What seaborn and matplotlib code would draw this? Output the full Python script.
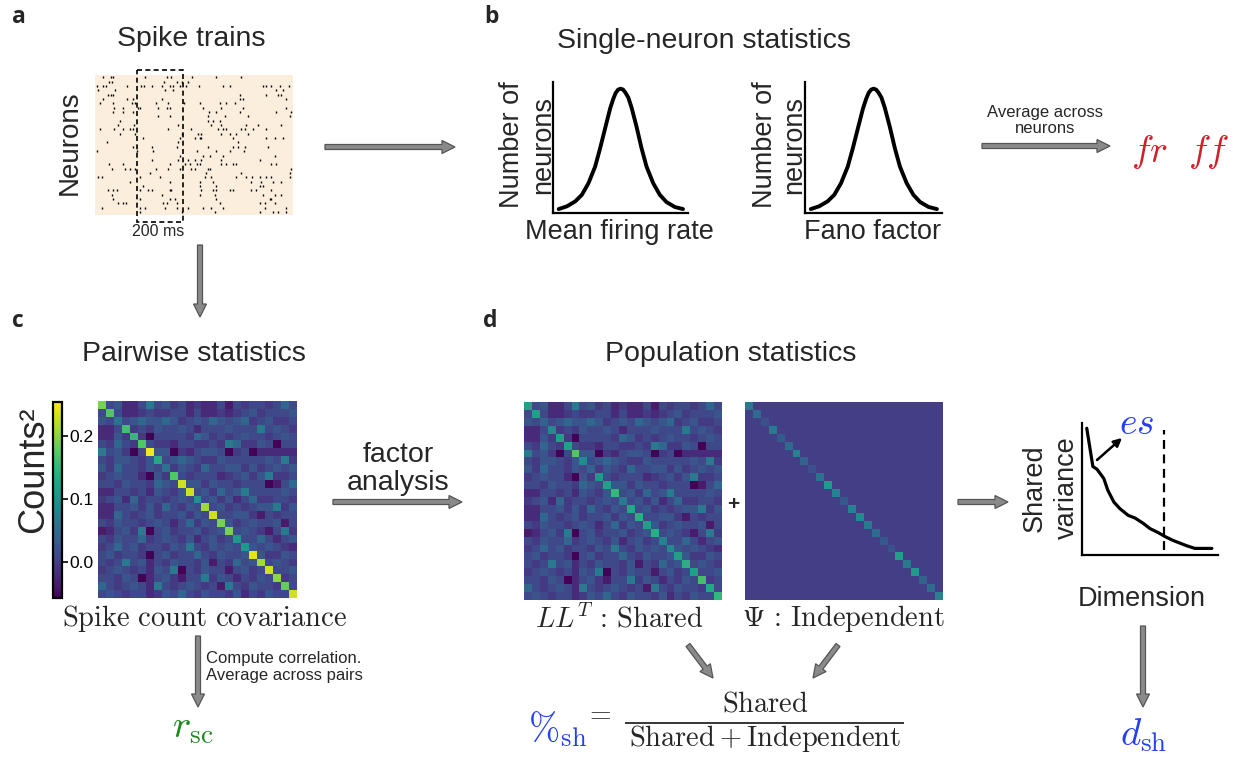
import numpy as np
import pandas as pd
import matplotlib
matplotlib.use("Agg")
import matplotlib.pyplot as plt
from matplotlib.patches import FancyArrow, Rectangle
import seaborn as sns

W, H = 1233, 761

# ---------------- data ----------------
# Spike times (ms) for each recorded neuron, top row first
SPIKE_TIMES = [
    [36, 68, 77, 217, 311, 328, 423, 525, 636],
    [62, 72, 299, 358, 376, 406],
    [7, 36, 48, 140, 198, 212, 246, 293, 325, 340, 368, 397, 452, 556, 585, 730, 744, 766, 802, 842],
    [14, 87, 303, 340, 788, 816],
    [58, 68, 79, 629, 744, 795, 809],
    [36, 137, 166, 289, 631, 643, 831],
    [22, 79, 159, 173, 267, 318, 387, 455, 542, 571, 607],
    [82, 123, 188, 195, 275, 311, 325, 470, 549, 643, 831],
    [79, 123, 166, 496, 527, 629, 788, 853],
    [275, 325, 491, 564, 665, 845],
    [108, 491, 513, 542],
    [101, 171, 361, 506, 549, 657, 708, 809],
    [22, 82, 123, 152, 163, 318, 419, 535, 556, 571, 636, 650, 686, 744],
    [108, 173, 376, 448, 462, 549, 585, 614, 665],
    [210, 368, 434, 455, 462, 600, 744, 780, 816],
    [51, 361, 621],
    [166, 246, 354, 491, 600, 621, 650, 751],
    [7, 181, 253, 441, 527, 585, 647],
    [368, 470, 499, 556, 780],
    [246, 361, 405, 434, 462, 549, 715],
    [61, 123, 325, 390, 412, 441, 455, 549, 571, 600, 614, 766, 788],
    [72, 130, 152, 173, 267, 318, 368, 415, 434, 491, 499, 853],
    [238, 484, 636, 845],
    [14, 29, 195, 282, 477, 506, 614, 657, 683, 715, 744, 766, 845],
    [152, 325, 455, 513, 679, 723, 773, 809],
    [210, 455, 525, 715, 730],
    [58, 77, 97, 195, 231, 246, 325, 332, 462, 513, 527, 585, 600, 679, 701, 766],
    [72, 289, 455, 520, 730, 780, 809],
    [79, 195, 325, 347, 527, 759, 766],
    [101, 123, 134, 296, 311, 354, 542, 715, 737, 780],
    [29, 195, 217, 303, 357, 405, 470, 506, 556, 737, 831],
    [195, 376, 520, 715, 773, 795, 831],
]
RASTER_DURATION = 860          # ms shown

# Schematic distribution (same shape for firing rate and Fano factor)
DIST_X = [4.2, 10.3, 16.5, 21.4, 26.3, 31.2, 34.9, 38.6, 42.3, 44.7, 46.5, 48.3, 50.1,
          51.9, 53.7, 55.8, 58.2, 61.9, 65.6, 69.3, 74.2, 79.1, 84.0, 90.2, 96.3]
DIST_Y = [3.0, 5.1, 8.9, 13.9, 22.8, 35.4, 49.4, 64.6, 79.7, 87.3, 91.8, 94.2, 94.9,
          94.2, 91.8, 88.1, 80.5, 65.8, 49.4, 35.4, 22.8, 13.9, 8.4, 4.6, 3.0]

# Spike count covariance (counts^2): off-diagonal levels, lower triangle rows
COV_LEVELS = [-0.055, -0.035, -0.02, -0.005, 0.01, 0.025, 0.045, 0.07]
COV_LOWER = [
    "4", "54", "224", "2253", "43643", "745304", "4355435", "53644354",
    "345442053", "4435443654", "22443425435", "345263443454",
    "2244535364354", "22643453445354", "435443454246354",
    "1245370453445345", "43544634543524534", "346453443547435454",
    "4534430453446435445", "43474524354435143645", "345434254704354414534",
    "4435402453144735424354", "64345427434543417435443",
    "454344235464354435243544",
]
SHARED_DIAG = [0.12, 0.12, 0.04, 0.09, 0.12, 0.12, 0.17, 0.09, 0.04, 0.11, 0.12, 0.15, 0.07,
               0.13, 0.14, 0.12, 0.14, 0.08, 0.09, 0.12, 0.14, 0.12, 0.16, 0.13, 0.15]
PRIVATE_DIAG = [0.07, 0.05, 0.02, 0.07, 0.03, 0.05, 0.08, 0.04, 0.02, 0.06, 0.11, 0.08, 0.03,
                0.08, 0.09, 0.07, 0.05, 0.03, 0.02, 0.12, 0.07, 0.11, 0.04, 0.05, 0.08]
CBAR_TICKS = [0.0, 0.1, 0.2]
VMIN, VMAX = -0.057, 0.254

# Shared variance per dimension (eigenspectrum of LL^T)
DIMS = [0.7, 1.6, 2.2, 3.2, 3.8, 4.7, 5.6, 6.8, 7.8, 9.0, 10.0, 11.2, 12.2, 13.4,
        14.4, 15.4, 16.6, 17.8, 19.1]
SHARED_VAR = [0.96, 0.67, 0.65, 0.58, 0.49, 0.40, 0.35, 0.30, 0.28, 0.24, 0.20, 0.17,
              0.14, 0.11, 0.09, 0.07, 0.05, 0.05, 0.05]
DIM_CUTOFF = 12.1

# ---------------- style ----------------
sns.set_theme(style="white")
plt.rcParams["font.family"] = ["Liberation Sans", "DejaVu Sans"]
plt.rcParams["mathtext.fontset"] = "cm"

BLUE = "#2440f2"
GREEN = "#1b8a1b"
RED = "#d0202a"
ARROW_FC = "#8a8a8a"
ARROW_EC = "#555555"

fig = plt.figure(figsize=(W / 100, H / 100), dpi=100)


def px_axes(l, t, r, b):
    return fig.add_axes([l / W, 1 - b / H, (r - l) / W, (b - t) / H])


def schematic_axes(ax):
    ax.set_xticks([]); ax.set_yticks([])
    ax.set_xlabel(""); ax.set_ylabel("")
    ax.set_facecolor("none")
    for side in ["top", "right"]:
        ax.spines[side].set_visible(False)
    for side in ["left", "bottom"]:
        ax.spines[side].set_color("black")
        ax.spines[side].set_linewidth(1.6)


# ---------------- a: raster ----------------
raster = pd.DataFrame(
    [(t, i) for i, row in enumerate(SPIKE_TIMES) for t in row],
    columns=["time", "neuron"],
)
ax = px_axes(95, 75, 293, 215)
ax.set_facecolor("#FBEEDC")
sns.scatterplot(data=raster, x="time", y="neuron", marker="|", s=3,
                color="black", linewidth=1.0, ax=ax, legend=False)
ax.set_xlim(0, RASTER_DURATION)
ax.set_ylim(len(SPIKE_TIMES) - 0.31, -0.53)
ax.set_xticks([]); ax.set_yticks([])
ax.set_xlabel(""); ax.set_ylabel("")
for s in ax.spines.values():
    s.set_visible(False)

# ---------------- b: single-neuron distributions ----------------
for (l, r) in [(553, 688), (805, 942)]:
    bx = px_axes(l, 82, r, 213)
    sns.lineplot(x=DIST_X, y=DIST_Y, color="black", lw=2.8, ax=bx,
                 solid_joinstyle="round", solid_capstyle="round")
    bx.set_xlim(0, 100); bx.set_ylim(0, 100)
    schematic_axes(bx)

# ---------------- c: covariance ----------------
n = len(SHARED_DIAG)
offdiag = np.zeros((n, n))
for i, row in enumerate(COV_LOWER, start=1):
    for j, ch in enumerate(row):
        offdiag[i, j] = offdiag[j, i] = COV_LEVELS[int(ch)]
shared = offdiag + np.diag(SHARED_DIAG)
private = np.diag(PRIVATE_DIAG)
cov = shared + private

cax = px_axes(53, 402, 62, 598)
cx = px_axes(98, 401, 297, 598)
sns.heatmap(cov, cmap="viridis", vmin=VMIN, vmax=VMAX, ax=cx, cbar_ax=cax,
            xticklabels=False, yticklabels=False)
cb = cx.collections[0].colorbar
cb.outline.set_linewidth(1.6)
cb.outline.set_edgecolor("black")
cb.set_ticks(CBAR_TICKS)
cb.set_ticklabels([f"{v:.1f}" for v in CBAR_TICKS])
cax.tick_params(length=4, width=1.2, labelsize=12.5, colors="black", pad=1)

# ---------------- d: factor analysis ----------------
sx = px_axes(524, 402, 722, 600)
sns.heatmap(shared, cmap="viridis", vmin=VMIN, vmax=VMAX, ax=sx, cbar=False,
            xticklabels=False, yticklabels=False)
ix = px_axes(745, 402, 943, 600)
sns.heatmap(private, cmap="viridis", vmin=VMIN, vmax=VMAX, ax=ix, cbar=False,
            xticklabels=False, yticklabels=False)

vx = px_axes(1082, 423, 1218, 555)
sns.lineplot(x=DIMS, y=SHARED_VAR, color="black", lw=2.3, ax=vx,
             solid_joinstyle="round")
vx.axvline(DIM_CUTOFF, ymin=0.04, ymax=0.95, color="black", lw=1.6, ls=(0, (4, 2.5)))
vx.set_xlim(0, 20); vx.set_ylim(0, 1)
schematic_axes(vx)

# ---------------- overlay: text and arrows in pixel coordinates ----------------
ov = fig.add_axes([0, 0, 1, 1])
ov.set_xlim(0, W); ov.set_ylim(H, 0)
ov.axis("off")
ov.patch.set_alpha(0)


def arrow(x0, y0, x1, y1):
    ov.add_patch(FancyArrow(x0, y0, x1 - x0, y1 - y0, width=5, head_width=13,
                            head_length=13, length_includes_head=True,
                            fc=ARROW_FC, ec=ARROW_EC, lw=0.9))


def label(x, y, s, **kw):
    kw.setdefault("ha", "center")
    kw.setdefault("va", "baseline")
    ov.text(x, y, s, **kw)


# panel letters
for x, y, s in [(12, 23, "a"), (484, 23, "b"), (12, 327, "c"), (483, 327, "d")]:
    label(x, y, s, ha="left", fontsize=16.5, fontweight="bold", family="Open Sans")

# titles
TITLE = 20.5
label(191, 46, "Spike trains", fontsize=TITLE)
label(704, 48, "Single-neuron statistics", fontsize=TITLE)
label(194, 361, "Pairwise statistics", fontsize=TITLE)
label(731, 361, "Population statistics", fontsize=TITLE)

# panel a annotations
ov.add_patch(Rectangle((137, 70), 46, 152, fill=False, ec="black", lw=1.2,
                       ls=(0, (3, 2))))
label(158, 236, "200 ms", fontsize=11.5)
label(70, 143, "Neurons", fontsize=20, rotation=90, va="center")

# panel b axis labels
label(619, 239, "Mean firing rate", fontsize=19.5)
label(873, 239, "Fano factor", fontsize=19.5)
for x0, x1 in [(512, 543), (765, 794)]:
    label(x0, 145, "Number of", fontsize=19.5, rotation=90, va="center")
    label(x1, 145, "neurons", fontsize=19.5, rotation=90, va="center")
label(1045, 117, "Average across", fontsize=12)
label(1045, 133, "neurons", fontsize=12)
label(1180, 162, r"$fr\ \ ff$", fontsize=27, color=RED)

# panel c annotations
label(34, 470, "Counts²", fontsize=26, rotation=90, va="center")
label(204, 626, r"$\mathrm{Spike\ count\ covariance}$", fontsize=20.5)
label(206, 663, "Compute correlation.", fontsize=12, ha="left")
label(206, 680, "Average across pairs", fontsize=12, ha="left")
label(193, 737, r"$r_{\mathrm{sc}}$", fontsize=28, color=GREEN)

# panel d annotations
label(398, 462, "factor", fontsize=20.5)
label(398, 490, "analysis", fontsize=20.5)
label(733, 510, "+", fontsize=15, fontweight="bold")
label(619, 628, r"$LL^T\,:\,\mathrm{Shared}$", fontsize=20.5)
label(843, 626, r"$\Psi\,:\,\mathrm{Independent}$", fontsize=20.5)
label(558, 741, r"$\%_{\mathrm{sh}}$", fontsize=27, color=BLUE)
label(598, 714, r"$=$", fontsize=20, va="center")
label(765, 712, r"$\mathrm{Shared}$", fontsize=20.5)
ov.plot([625, 904], [723, 723], color="black", lw=1.1, solid_capstyle="butt")
label(765, 746, r"$\mathrm{Shared} + \mathrm{Independent}$", fontsize=20.5)
label(1035, 488, "Shared", fontsize=19.5, rotation=90, va="center")
label(1067, 488, "variance", fontsize=19.5, rotation=90, va="center")
label(1142, 606, "Dimension", fontsize=19.5)
label(1137, 434, r"$es$", fontsize=27, color=BLUE)
ov.annotate("", xy=(1122, 438), xytext=(1097, 460),
            arrowprops=dict(arrowstyle="-|>", color="black", lw=1.8,
                            mutation_scale=12, shrinkA=0, shrinkB=0))
label(1144, 745, r"$d_{\mathrm{sh}}$", fontsize=28, color=BLUE)

# flow arrows
arrow(325, 147, 455, 147)
arrow(200, 245, 200, 317)
arrow(982, 146, 1110, 146)
arrow(198, 636, 198, 707)
arrow(333, 502, 462, 502)
arrow(958, 502, 1008, 502)
arrow(1143, 626, 1143, 707)
arrow(688, 645, 713, 678)
arrow(838, 645, 813, 678)

fig.savefig("out.png", dpi=100)
